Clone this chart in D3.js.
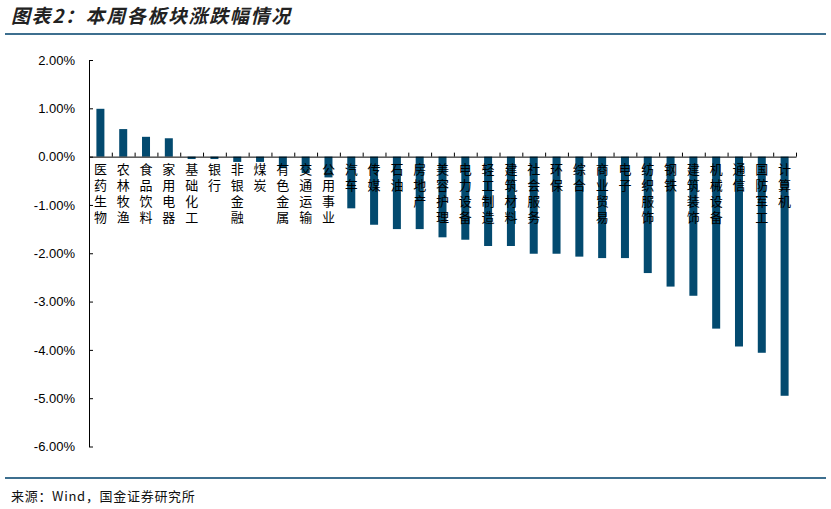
<!DOCTYPE html>
<html>
<head>
<meta charset="utf-8">
<script src="https://cdn.jsdelivr.net/npm/d3@7"></script>
<style>
  body { margin: 0; background: #fff; }
  svg { display: block; }
</style>
</head>
<body>
<div class="chart"></div>
<script>
const categories = ['医药生物','农林牧渔','食品饮料','家用电器','基础化工','银行','非银金融','煤炭','有色金属','交通运输',
  '公用事业','汽车','传媒','石油','房地产','美容护理','电力设备','轻工制造','建筑材料','社会服务',
  '环保','综合','商业贸易','电子','纺织服饰','钢铁','建筑装饰','机械设备','通信','国防军工','计算机'];
const changes = [0.99,0.57,0.41,0.38,-0.05,-0.05,-0.11,-0.11,-0.24,-0.34,
  -0.43,-1.07,-1.41,-1.50,-1.50,-1.67,-1.72,-1.85,-1.85,-2.01,
  -2.01,-2.07,-2.10,-2.10,-2.41,-2.69,-2.88,-3.56,-3.93,-4.06,-4.95];
const yTicks = [2,1,0,-1,-2,-3,-4,-5,-6];

const width = 831;
const height = 509;
const svg = d3.select('.chart')
  .append('svg')
  .attr('width', width)
  .attr('height', height);

// title + rules
svg.append('text')
  .text('图表2：本周各板块涨跌幅情况')
  .attr('x', 11)
  .attr('y', 23)
  .attr('font-family', '"Noto Sans CJK SC", sans-serif')
  .attr('font-size', 19)
  .attr('letter-spacing', 1.6)
  .attr('font-weight', 'bold')
  .attr('font-style', 'italic')
  .attr('fill', '#222');

svg.append('line')
  .attr('x1', 5).attr('x2', 826)
  .attr('y1', 34).attr('y2', 34)
  .attr('stroke', '#3d6f8f')
  .attr('stroke-width', 2);

svg.append('line')
  .attr('x1', 5).attr('x2', 826)
  .attr('y1', 478).attr('y2', 478)
  .attr('stroke', '#3d6f8f')
  .attr('stroke-width', 2);

svg.append('text')
  .text('来源：Wind，国金证券研究所')
  .attr('x', 11)
  .attr('y', 501)
  .attr('font-family', '"Noto Sans CJK SC", sans-serif')
  .attr('font-size', 13)
  .attr('letter-spacing', 0.7)
  .attr('fill', '#111');

// scales
const x = d3.scaleBand()
  .domain(categories)
  .range([89, 796])
  .padding(0);

const y = d3.scaleLinear()
  .domain([-6, 2])
  .range([446.5, 60]);

// bars
const barW = 8;
svg.selectAll('rect.bar')
  .data(categories)
  .enter()
  .append('rect')
  .attr('class', 'bar')
  .attr('x', d => x(d) + x.bandwidth() / 2 - barW / 2)
  .attr('y', (d, i) => y(Math.max(0, changes[i])))
  .attr('width', barW)
  .attr('height', (d, i) => Math.abs(y(changes[i]) - y(0)))
  .attr('fill', '#034a6f');

// y axis
const yAxis = svg.append('g')
  .attr('transform', 'translate(89,0)')
  .call(d3.axisLeft(y)
    .tickValues(yTicks)
    .tickSizeInner(-4)
    .tickSizeOuter(0)
    .tickPadding(14)
    .tickFormat(d => d.toFixed(2) + '%'));
yAxis.selectAll('text')
  .attr('font-family', 'Arial, "Liberation Sans", sans-serif')
  .attr('font-size', 13)
  .attr('fill', '#000');
yAxis.selectAll('line, path').attr('stroke', '#000');

// x axis at zero, ticks at band edges
const edge = d3.scaleLinear().domain([0, categories.length]).range(x.range());
const xAxis = svg.append('g')
  .attr('transform', `translate(0,${y(0)})`)
  .call(d3.axisTop(edge)
    .tickValues(d3.range(1, categories.length + 1))
    .tickSizeInner(4)
    .tickSizeOuter(0)
    .tickFormat(''));
xAxis.selectAll('line, path').attr('stroke', '#000');

// vertical category labels
svg.selectAll('text.cat')
  .data(categories)
  .enter()
  .append('text')
  .attr('class', 'cat')
  .text(d => d)
  .attr('x', d => x(d) + x.bandwidth() / 2)
  .attr('y', y(0) + 6)
  .attr('font-family', '"Noto Sans CJK SC", sans-serif')
  .attr('font-size', 13)
  .attr('letter-spacing', 3)
  .attr('fill', '#000')
  .style('writing-mode', 'vertical-rl')
  .style('text-orientation', 'upright');
</script>
</body>
</html>
